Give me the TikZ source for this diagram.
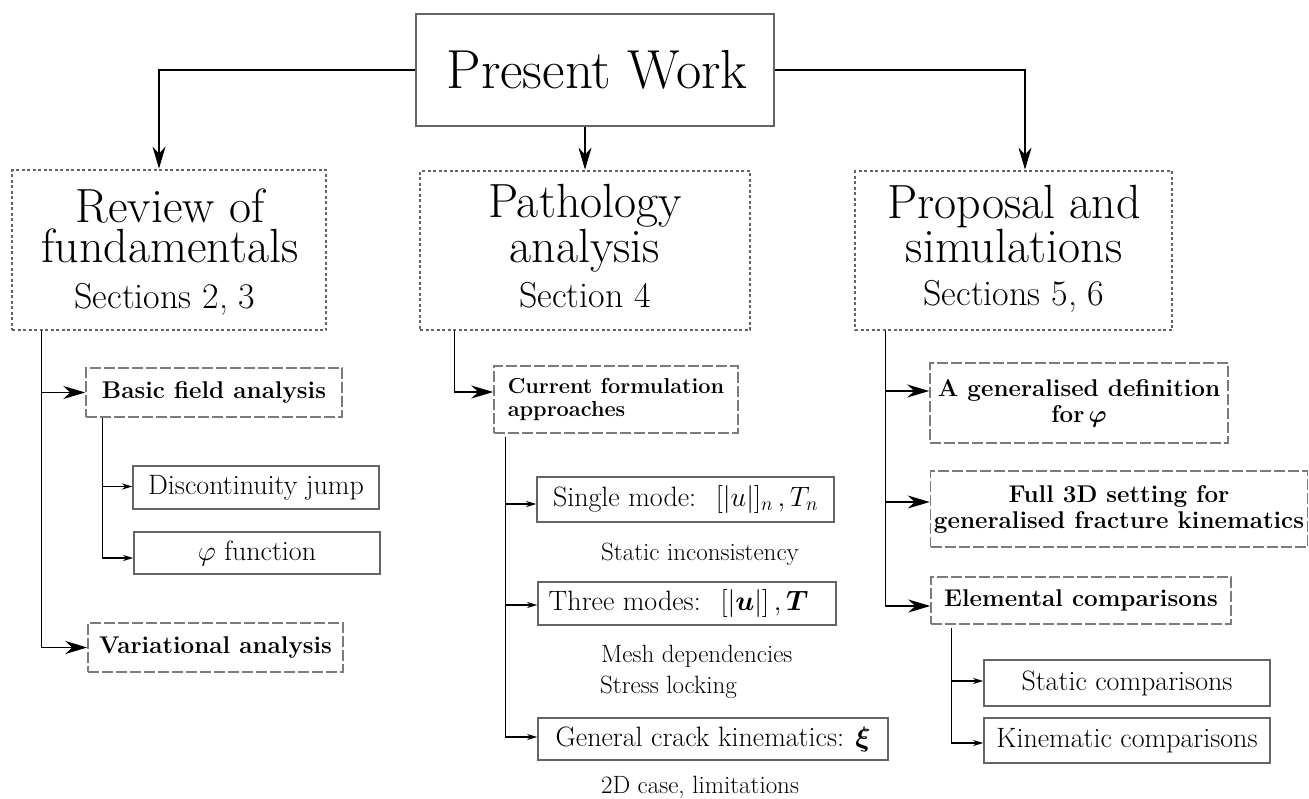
\RequirePackage{fix-cm}
\documentclass[tikz,border=0pt]{standalone}
\usepackage{amsmath}
\usetikzlibrary{arrows.meta}
\definecolor{boxgray}{RGB}{100,100,100}
\newcommand\fsTop{\fontsize{55}{60}\selectfont}
\newcommand\fsTitle{\fontsize{48}{40}\selectfont}
\newcommand\fsSec{\fontsize{36}{38}\selectfont}
\newcommand\fsBold{\fontsize{24.2}{26}\selectfont\bfseries}
\newcommand\fsCur{\fontsize{21.7}{23}\selectfont\bfseries}
\newcommand\fsLeaf{\fontsize{28}{30}\selectfont}
\newcommand\fsNote{\fontsize{25}{31}\selectfont}
\begin{document}
\begin{tikzpicture}[x=1pt,y=-1pt,
 topbox/.style={draw=boxgray,line width=2pt,inner sep=0pt},
 secbox/.style={draw=boxgray,line width=2.8pt,dash pattern=on 3pt off 2.5pt,inner sep=0pt},
 dbox/.style={draw=boxgray!85,line width=1.5pt,dash pattern=on 11pt off 3pt,inner sep=0pt,align=center,font=\fsBold},
 leaf/.style={draw=boxgray,line width=1.6pt,inner sep=0pt,align=center,font=\fsLeaf},
 txt/.style={inner sep=0pt,anchor=base},
 ttl/.style={txt,font=\fsTitle,align=center},
 conn/.style={line width=1.3pt},
 bigarr/.style={conn,-{Stealth[length=22pt,width=13pt,inset=7pt]}},
 smallarr/.style={conn,-{Stealth[length=10pt,width=6pt,inset=3pt]}},
]
\useasboundingbox (0,0) rectangle (1309,798);

% top
\node[topbox,minimum width=358pt,minimum height=112pt] (pw) at (595,70) {};
\node[txt,font=\fsTop] (pwt) at (597,88) {Present Work};

% sections
\node[secbox,minimum width=314pt,minimum height=160pt] (rev) at (169,250) {};
\node[ttl] (rev1) at (170,262) {Review of\\fundamentals};
\node[txt,font=\fsSec] (rev3) at (165,308) {Sections 2, 3};

\node[secbox,minimum width=330pt,minimum height=159pt] (pat) at (585,250.5) {};
\node[ttl] (pat1) at (585,262) {Pathology\\analysis};
\node[txt,font=\fsSec] (pat3) at (585,307) {Section 4};

\node[secbox,minimum width=317pt,minimum height=159pt] (pro) at (1013.5,250.5) {};
\node[ttl] (pro1) at (1014,262) {Proposal and\\simulations};
\node[txt,font=\fsSec] (pro3) at (1014,305) {Sections 5, 6};

% left column
\node[dbox,minimum width=256pt,minimum height=49pt] (bas) at (214,392.5) {Basic field analysis};
\node[dbox,minimum width=255pt,minimum height=49pt] (var) at (215.5,647.5) {Variational analysis};
\node[leaf,minimum width=246pt,minimum height=43pt] (dis) at (256,487.5) {Discontinuity jump};
\node[leaf,minimum width=246pt,minimum height=42pt] (phi) at (257,553) {$\varphi$ function};

% middle column
\node[dbox,minimum width=244pt,minimum height=67pt,align=left,font=\fsCur] (cur) at (616,399.5) {Current formulation\\approaches};
\node[leaf,minimum width=297pt,minimum height=45pt] (sin) at (685.5,499.5) {Single mode: \ $[|u|]_n\,,T_n$};
\node[leaf,minimum width=298pt,minimum height=43pt] (thr) at (687,603.5) {Three modes: \ $[|\boldsymbol{u}|]\,,\boldsymbol{T}$\ \ };
\node[leaf,minimum width=350pt,minimum height=42pt] (gen) at (713,739) {General crack kinematics: $\boldsymbol{\xi}$};
\node[txt,font=\fsNote] (n1) at (700,560) {Static inconsistency};
\node[txt,font=\fsNote,anchor=base west] (n2) at (601,662) {Mesh dependencies};
\node[txt,font=\fsNote,anchor=base west] (n3) at (600,693) {Stress locking};
\node[txt,font=\fsNote] (n4) at (700,793) {2D case, limitations};

% right column
\node[dbox,minimum width=298pt,minimum height=80pt] (agd) at (1079,403) {A generalised definition\\for\,$\boldsymbol{\varphi}$};
\node[dbox,minimum width=377pt,minimum height=76pt] (f3d) at (1119,509) {Full 3D setting for\\generalised fracture kinematics};
\node[dbox,minimum width=300pt,minimum height=47pt] (ele) at (1081,600.5) {Elemental comparisons};
\node[leaf,minimum width=286pt,minimum height=46pt] (sta) at (1127,683) {Static comparisons};
\node[leaf,minimum width=286pt,minimum height=45pt] (kin) at (1127,740.5) {Kinematic comparisons};

% connectors from top
\draw[bigarr] (pw.west) -| ([xshift=-10pt]rev.north);
\draw[bigarr] (pat.north |- pw.south) -- (pat.north);
\draw[bigarr] (pw.east) -| ([xshift=11.5pt]pro.north);

% left
\draw[bigarr] ([xshift=31pt]rev.south west) |- (bas.west);
\draw[bigarr] ([xshift=31pt]rev.south west) |- (var.west);
\draw[smallarr] ([xshift=17pt]bas.south west) |- ([yshift=1pt]dis.west);
\draw[smallarr] ([xshift=17pt]bas.south west) |- ([yshift=-5pt]phi.west);

% middle
\draw[bigarr] ([xshift=36pt]pat.south west) |- ([yshift=7.5pt]cur.west);
\draw[smallarr] ([xshift=12pt,yshift=-3pt]cur.south west) |- ([yshift=-4.5pt]sin.west);
\draw[smallarr] ([xshift=12pt,yshift=-3pt]cur.south west) |- ([yshift=-1.5pt]thr.west);
\draw[smallarr] ([xshift=12pt,yshift=-3pt]cur.south west) |- ([yshift=2pt]gen.west);

% right
\draw[bigarr] ([xshift=32pt]pro.south west) |- ([yshift=12pt]agd.west);
\draw[bigarr] ([xshift=32pt]pro.south west) |- ([yshift=7pt]f3d.west);
\draw[bigarr] ([xshift=32pt]pro.south west) |- ([yshift=-5.5pt]ele.west);
\draw[smallarr] ([xshift=21pt,yshift=-3pt]ele.south west) |- ([yshift=2pt]sta.west);
\draw[smallarr] ([xshift=21pt,yshift=-3pt]ele.south west) |- ([yshift=-2.5pt]kin.west);
\end{tikzpicture}
\end{document}
